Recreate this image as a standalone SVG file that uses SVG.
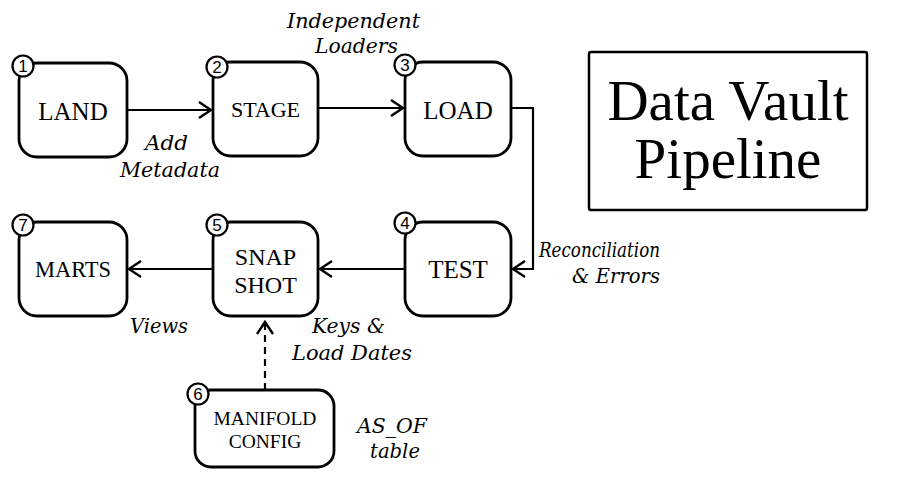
<svg xmlns="http://www.w3.org/2000/svg" width="902" height="478" viewBox="0 0 902 478">
<style>
.box{fill:#fff;stroke:#000;stroke-width:2.8}
.num{fill:#fff;stroke:#000;stroke-width:2.2}
.numt{font-family:"Liberation Sans",Arial,sans-serif;font-size:17px;text-anchor:middle;fill:#000}
.lbl{font-family:"Liberation Serif","Times New Roman",serif;text-anchor:middle;fill:#000}
.ann{font-family:"DejaVu Serif","Liberation Serif",serif;font-style:italic;font-size:21px;fill:#000}
.con{fill:none;stroke:#000;stroke-width:2.2}
</style>
<defs>
<marker id="arr" markerUnits="userSpaceOnUse" markerWidth="18" markerHeight="20" refX="14" refY="9" orient="auto">
<path d="M2,1 L14,9 L2,17" fill="none" stroke="#000" stroke-width="2.4"/>
</marker>
</defs>
<rect width="902" height="478" fill="#fff"/>
<g id="connectors">
<path class="con" d="M127,110 H211" marker-end="url(#arr)"/>
<path class="con" d="M318,108 H403" marker-end="url(#arr)"/>
<path class="con" d="M511,108 H533 V269 H513" marker-end="url(#arr)"/>
<path class="con" d="M405,269 H320" marker-end="url(#arr)"/>
<path class="con" d="M213,269 H129" marker-end="url(#arr)"/>
<path class="con" d="M265,390 V322" stroke-width="2.6" stroke-dasharray="7,5" marker-end="url(#arr)"/>
</g>
<g id="n1">
<rect class="box" x="19" y="63" width="108" height="94" rx="18"/>
<text class="lbl" x="73" y="120" font-size="25">LAND</text>
<circle class="num" cx="23" cy="66" r="10.5"/>
<text class="numt" x="23" y="72">1</text>
</g>
<g id="n2">
<rect class="box" x="213" y="62" width="105" height="94" rx="18"/>
<text class="lbl" x="265.5" y="117" font-size="22">STAGE</text>
<circle class="num" cx="217" cy="67" r="10.5"/>
<text class="numt" x="217" y="73">2</text>
</g>
<g id="n3">
<rect class="box" x="405" y="62" width="106" height="94" rx="18"/>
<text class="lbl" x="458" y="119" font-size="25">LOAD</text>
<circle class="num" cx="405" cy="65" r="10.5"/>
<text class="numt" x="405" y="71">3</text>
</g>
<g id="n4">
<rect class="box" x="405" y="222" width="106" height="94" rx="18"/>
<text class="lbl" x="458" y="278" font-size="25">TEST</text>
<circle class="num" cx="405" cy="223" r="10.5"/>
<text class="numt" x="405" y="229">4</text>
</g>
<g id="n5">
<rect class="box" x="213" y="222" width="105" height="94" rx="18"/>
<text class="lbl" x="265.5" y="265" font-size="24">SNAP</text>
<text class="lbl" x="265.5" y="293" font-size="24">SHOT</text>
<circle class="num" cx="217" cy="225" r="10.5"/>
<text class="numt" x="217" y="231">5</text>
</g>
<g id="n7">
<rect class="box" x="19" y="222" width="108" height="94" rx="18"/>
<text class="lbl" x="73" y="277" font-size="22.5">MARTS</text>
<circle class="num" cx="23" cy="225" r="10.5"/>
<text class="numt" x="23" y="231">7</text>
</g>
<g id="n6">
<rect class="box" x="195" y="390" width="139" height="77" rx="16"/>
<text class="lbl" x="265" y="425" font-size="19.5">MANIFOLD</text>
<text class="lbl" x="265" y="448" font-size="19.5">CONFIG</text>
<circle class="num" cx="198" cy="394" r="10.5"/>
<text class="numt" x="198" y="400">6</text>
</g>
<g id="title">
<rect x="589" y="52" width="278" height="158" rx="2" fill="#fff" stroke="#000" stroke-width="2.5"/>
<text class="lbl" x="728" y="120" font-size="57">Data Vault</text>
<text class="lbl" x="728" y="178" font-size="57">Pipeline</text>
</g>
<g id="annotations">
<text class="ann" x="287" y="28" textLength="133" lengthAdjust="spacingAndGlyphs">Independent</text>
<text class="ann" x="315" y="53" textLength="83" lengthAdjust="spacingAndGlyphs">Loaders</text>
<text class="ann" x="145" y="150" textLength="43" lengthAdjust="spacingAndGlyphs">Add</text>
<text class="ann" x="120" y="177" textLength="100" lengthAdjust="spacingAndGlyphs">Metadata</text>
<text class="ann" x="539" y="257" textLength="121" lengthAdjust="spacingAndGlyphs">Reconciliation</text>
<text class="ann" x="572" y="283" textLength="88" lengthAdjust="spacingAndGlyphs">&amp; Errors</text>
<text class="ann" x="130" y="333" textLength="58" lengthAdjust="spacingAndGlyphs">Views</text>
<text class="ann" x="312" y="333" textLength="73" lengthAdjust="spacingAndGlyphs">Keys &amp;</text>
<text class="ann" x="292" y="360" textLength="120" lengthAdjust="spacingAndGlyphs">Load Dates</text>
<text class="ann" x="357" y="433" textLength="70" lengthAdjust="spacingAndGlyphs">AS_OF</text>
<text class="ann" x="370" y="458" textLength="50" lengthAdjust="spacingAndGlyphs">table</text>
</g>
</svg>
